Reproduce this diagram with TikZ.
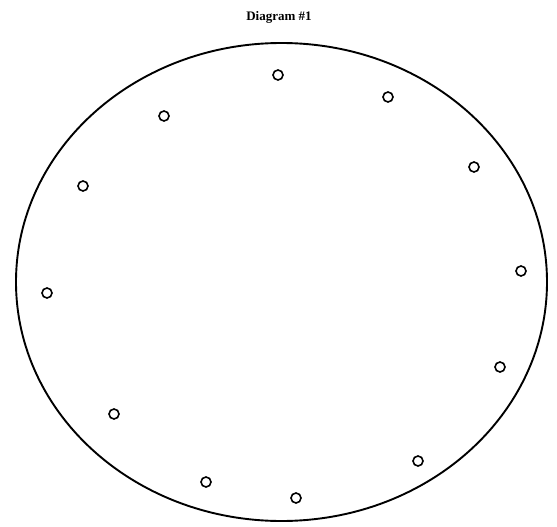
\documentclass[tikz,border=0pt]{standalone}
\usepackage{fontspec}
\setmainfont{Liberation Serif}
\begin{document}
\begin{tikzpicture}[x=1pt,y=-1pt,
  dot/.style={circle,draw,line width=1.6pt,minimum size=10pt,inner sep=0pt},
  rim/.style={line width=1.9pt}]
\useasboundingbox (0,0) rectangle (557,527);
\node[font=\bfseries\fontsize{13}{15}\selectfont] (title) at (279,17) {Diagram \#1};
\draw[rim] (281.5,282) ellipse [x radius=265.5, y radius=239];
\node[dot] (c1) at (278,75) {};
\node[dot] (c2) at (388,97) {};
\node[dot] (c3) at (164,116) {};
\node[dot] (c4) at (474,167) {};
\node[dot] (c5) at (83,186) {};
\node[dot] (c6) at (521,271) {};
\node[dot] (c7) at (47,293) {};
\node[dot] (c8) at (500,367) {};
\node[dot] (c9) at (114,414) {};
\node[dot] (c10) at (418,461) {};
\node[dot] (c11) at (206,482) {};
\node[dot] (c12) at (296,498) {};
\end{tikzpicture}
\end{document}
